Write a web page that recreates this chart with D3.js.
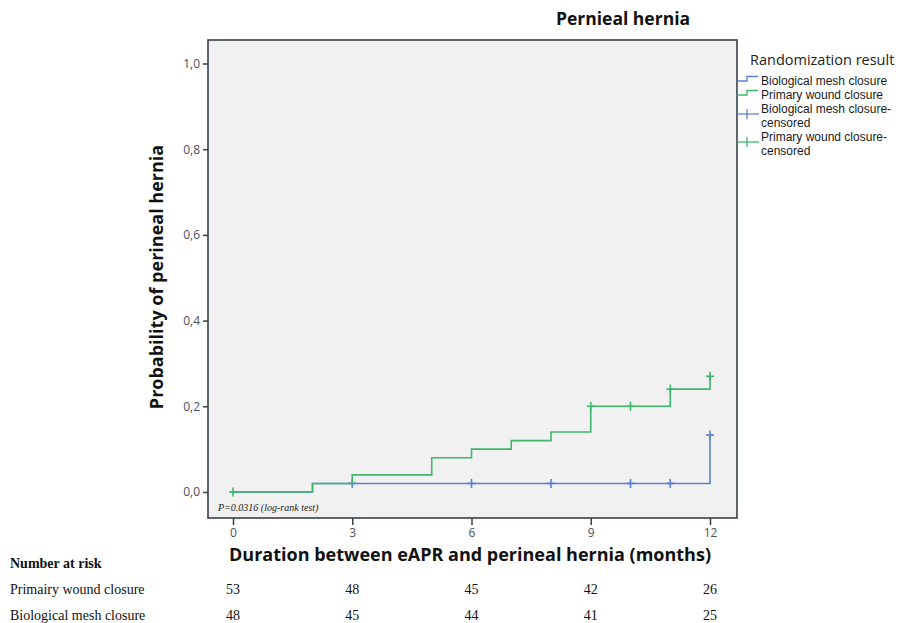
<!DOCTYPE html>
<html>
<head>
<meta charset="utf-8">
<script src="https://cdn.jsdelivr.net/npm/d3@7"></script>
<style>
  body { margin: 0; background: #ffffff; }
  svg { display: block; }
</style>
</head>
<body>
<div id="chart"></div>
<script>
"use strict";

// data
const xTicks = [0, 3, 6, 9, 12];
const yTicks = [0, 0.2, 0.4, 0.6, 0.8, 1.0];

const primaryTimes = [0, 2, 3, 5, 6, 7, 8, 9, 11, 12];
const primaryProb = [0, 0.02, 0.04, 0.08, 0.10, 0.12, 0.14, 0.20, 0.24, 0.27];
const primaryCensored = [0, 9, 10, 11, 12];

const meshTimes = [0, 2, 12];
const meshProb = [0, 0.02, 0.133];
const meshCensored = [3, 6, 8, 10, 11, 12];

const riskGroups = ["Primairy wound closure", "Biological mesh closure"];
const riskPrimary = [53, 48, 45, 42, 26];
const riskMesh = [48, 45, 44, 41, 25];

const legendLabels = ["Biological mesh closure", "Primary wound closure",
  ["Biological mesh closure-", "censored"], ["Primary wound closure-", "censored"]];

const blue = "#5b80cf";
const green = "#3fb66b";

const width = 908, height = 623;
const frame = {left: 208, top: 40, right: 737, bottom: 518};

const svg = d3.select("#chart").append("svg")
    .attr("width", width)
    .attr("height", height);

const x = d3.scaleLinear().domain([0, 12]).range([233, 710]);
const y = d3.scaleLinear().domain([0, 1]).range([492, 63.5]);

// plot panel
svg.append("rect")
    .attr("x", frame.left)
    .attr("y", frame.top)
    .attr("width", frame.right - frame.left)
    .attr("height", frame.bottom - frame.top)
    .style("fill", "#f1f1f2")
    .style("stroke", "#36414a")
    .style("stroke-width", 1.6);

// title
svg.append("text")
    .attr("x", 623)
    .attr("y", 25)
    .attr("text-anchor", "middle")
    .style("font-family", "Open Sans")
    .style("font-weight", "bold")
    .style("font-size", "17.5px")
    .style("fill", "#111")
    .text("Pernieal hernia");

// y axis
const yAxis = d3.axisLeft(y)
    .tickValues(yTicks)
    .tickSize(5)
    .tickFormat(d => d3.format(".1f")(d).replace(".", ","));

const yg = svg.append("g")
    .attr("transform", `translate(${frame.left},0)`)
    .call(yAxis);
yg.select(".domain").remove();
yg.selectAll(".tick line").style("stroke", "#36414a").style("stroke-width", 1.5);
yg.selectAll(".tick text")
    .style("font-family", "Open Sans")
    .style("font-size", "12px")
    .style("fill", "#4a5060");

// x axis
const xAxis = d3.axisBottom(x)
    .tickValues(xTicks)
    .tickSize(7)
    .tickFormat(d3.format("d"));

const xg = svg.append("g")
    .attr("transform", `translate(0,${frame.bottom})`)
    .call(xAxis);
xg.select(".domain").remove();
xg.selectAll(".tick line").style("stroke", "#36414a").style("stroke-width", 1.5);
xg.selectAll(".tick text")
    .style("font-family", "Open Sans")
    .style("font-size", "12px")
    .style("fill", "#4a5060");

// axis titles
svg.append("text")
    .attr("transform", "translate(163,277) rotate(-90)")
    .attr("text-anchor", "middle")
    .style("font-family", "Open Sans")
    .style("font-weight", "bold")
    .style("font-size", "18px")
    .style("fill", "#111")
    .text("Probability of perineal hernia");

svg.append("text")
    .attr("x", 470)
    .attr("y", 561)
    .attr("text-anchor", "middle")
    .style("font-family", "Open Sans")
    .style("font-weight", "bold")
    .style("font-size", "18px")
    .style("fill", "#111")
    .text("Duration between eAPR and perineal hernia (months)");

// p value
svg.append("text")
    .attr("x", 218)
    .attr("y", 511)
    .style("font-family", "Liberation Serif")
    .style("font-style", "italic")
    .style("font-size", "10px")
    .style("fill", "#222")
    .text("P=0.0316 (log-rank test)");

// step curves
const stepLine = d3.line()
    .x(d => x(d[0]))
    .y(d => y(d[1]))
    .curve(d3.curveStepAfter);

const stepValue = function(times, probs, t){
  let v = probs[0];
  times.forEach((tt, i) => { if (tt <= t) v = probs[i]; });
  return v;
};

const drawCurve = function(times, probs, censored, color){
  svg.append("path")
      .datum(times.map((t, i) => [t, probs[i]]))
      .attr("d", stepLine)
      .style("fill", "none")
      .style("stroke", color)
      .style("stroke-width", 1.6);

  const g = svg.append("g");
  g.selectAll(".cv")
      .data(censored)
      .enter().append("line")
      .attr("x1", d => x(d))
      .attr("x2", d => x(d))
      .attr("y1", d => y(stepValue(times, probs, d)) - 4.5)
      .attr("y2", d => y(stepValue(times, probs, d)) + 4.5)
      .style("stroke", color)
      .style("stroke-width", 1.6);
  g.selectAll(".ch")
      .data(censored)
      .enter().append("line")
      .attr("x1", d => x(d) - 4)
      .attr("x2", d => x(d) + 4)
      .attr("y1", d => y(stepValue(times, probs, d)))
      .attr("y2", d => y(stepValue(times, probs, d)))
      .style("stroke", color)
      .style("stroke-width", 1.6);
};

drawCurve(meshTimes, meshProb, meshCensored, blue);
drawCurve(primaryTimes, primaryProb, primaryCensored, green);

// legend
const lg = svg.append("g");
lg.append("text")
    .attr("x", 750)
    .attr("y", 65)
    .style("font-family", "Open Sans")
    .style("font-size", "14.5px")
    .style("fill", "#222")
    .text("Randomization result");

const legendColors = [blue, green, blue, green];
const legendY = [81, 95, 114, 142];

legendLabels.forEach(function(lab, i){
  const c = legendColors[i];
  const yy = legendY[i];
  if (i < 2) {
    lg.append("path")
        .attr("d", `M737,${yy} H747 V${yy - 4.5} H758`)
        .style("fill", "none")
        .style("stroke", c)
        .style("stroke-width", 1.3);
    lg.append("text")
        .attr("x", 761)
        .attr("y", yy + 4)
        .style("font-family", "Liberation Sans")
        .style("font-size", "12px")
        .style("fill", "#1a1a1a")
        .text(lab);
  } else {
    lg.append("line")
        .attr("x1", 737).attr("x2", 759)
        .attr("y1", yy).attr("y2", yy)
        .style("stroke", c).style("stroke-width", 1.3);
    lg.append("line")
        .attr("x1", 747).attr("x2", 747)
        .attr("y1", yy - 5).attr("y2", yy + 5)
        .style("stroke", c).style("stroke-width", 1.3);
    lab.forEach(function(line, j){
      lg.append("text")
          .attr("x", 761)
          .attr("y", yy - 1 + j * 14)
          .style("font-family", "Liberation Sans")
          .style("font-size", "12px")
          .style("fill", "#1a1a1a")
          .text(line);
    });
  }
});

// number at risk table
svg.append("text")
    .attr("x", 10)
    .attr("y", 568)
    .style("font-family", "Liberation Serif")
    .style("font-weight", "bold")
    .style("font-size", "14px")
    .style("fill", "#111")
    .text("Number at risk");

[riskPrimary, riskMesh].forEach(function(row, r){
  const yy = 594 + r * 26;
  svg.append("text")
      .attr("x", 10)
      .attr("y", yy)
      .style("font-family", "Liberation Serif")
      .style("font-size", "14px")
      .style("fill", "#111")
      .text(riskGroups[r]);
  svg.selectAll(".risk" + r)
      .data(row)
      .enter().append("text")
      .attr("x", (d, i) => x(xTicks[i]))
      .attr("y", yy)
      .attr("text-anchor", "middle")
      .style("font-family", "Liberation Serif")
      .style("font-size", "14px")
      .style("fill", "#111")
      .text(d => d);
});
</script>
</body>
</html>
